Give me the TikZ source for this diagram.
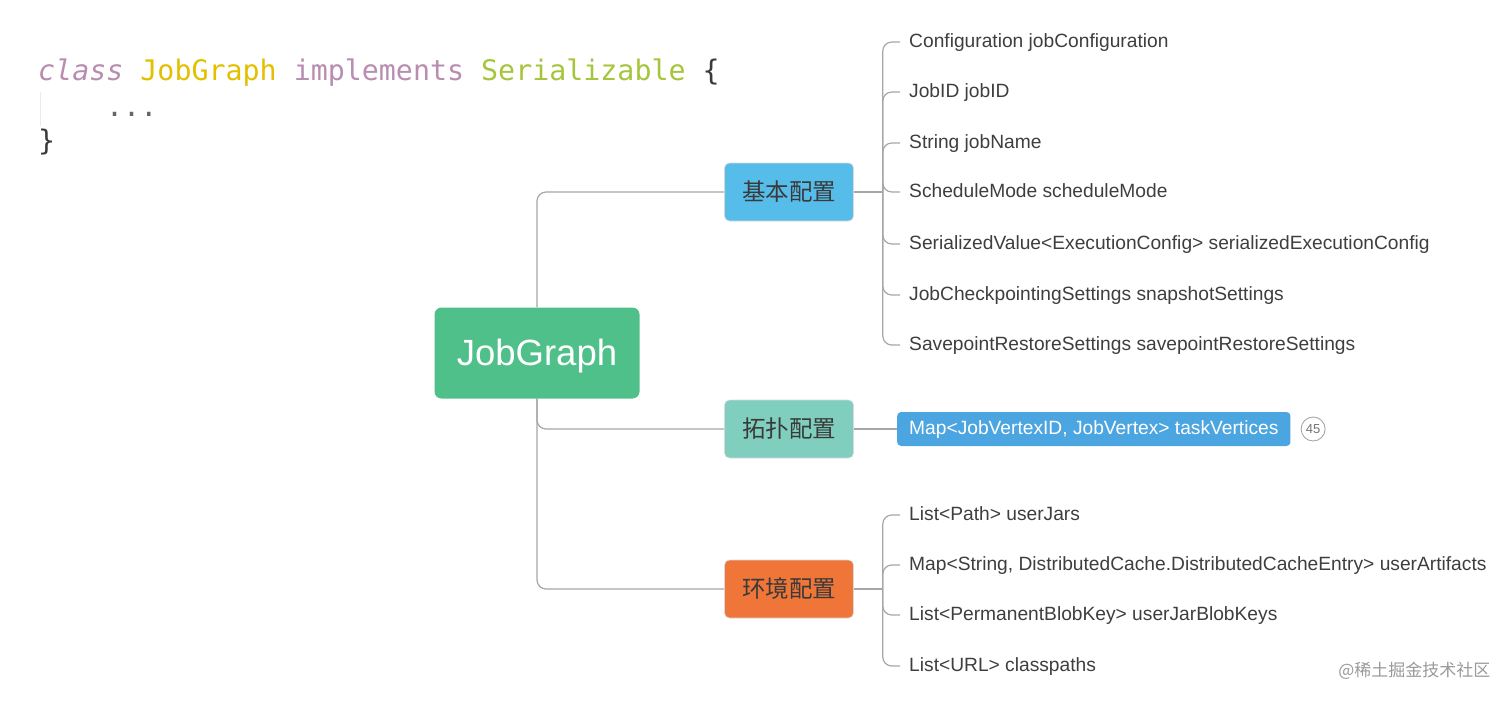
\documentclass[tikz,border=0pt]{standalone}
\usepackage{fontspec}
\setmainfont{Liberation Sans}
\newfontfamily\cjk{Noto Sans CJK SC}
\newfontfamily\codefont{DejaVu Sans Mono}
\usetikzlibrary{positioning,calc}
\definecolor{rootgreen}{HTML}{4FC08A}
\definecolor{basicblue}{HTML}{56BDEA}
\definecolor{topoteal}{HTML}{7FCEBE}
\definecolor{envorange}{HTML}{EF7538}
\definecolor{leafblue}{HTML}{4BA5E0}
\definecolor{linegray}{HTML}{A6A6A6}
\definecolor{txtdark}{HTML}{3A3A3A}
\definecolor{leafgray}{HTML}{3E3E3E}
\definecolor{kwmauve}{HTML}{B88DB0}
\definecolor{clsyellow}{HTML}{E2C000}
\definecolor{ifgreen}{HTML}{A5C53C}

\begin{document}
\begin{tikzpicture}[
    x=1pt, y=-1pt,
    topic/.style={rectangle, rounded corners=5pt, draw=white!85!black, line width=0.6pt,
        minimum width=129pt, minimum height=58pt, text=txtdark,
        font=\cjk\fontsize{23.5}{26}\selectfont},
    leaf/.style={anchor=west, inner xsep=9pt, inner ysep=2pt, text=leafgray,
        text height=15pt, text depth=4pt, font=\fontsize{19.2}{22}\selectfont},
    link/.style={draw=linegray, line width=1.2pt, rounded corners=9pt},
    code/.style={anchor=base west, inner sep=0pt, text=txtdark,
        font=\codefont\fontsize{28.3}{34}\selectfont},
]
\useasboundingbox (0,0) rectangle (1512,702);

% code snippet
\node[code] (decl) at (38,80) {\textcolor{kwmauve}{\itshape class} \textcolor{clsyellow}{JobGraph} \textcolor{kwmauve}{implements} \textcolor{ifgreen}{Serializable} \{};
\node[code, text=black!60] (dots) at (106,116) {...};
\node[code] (closing) at (38,150) {\}};
\draw[black!8, line width=1pt] (40,92) -- (40,126);

% central topic
\node[rectangle, rounded corners=7pt, fill=rootgreen, minimum width=205pt, minimum height=91pt,
    text height=30pt, text depth=5pt, text=white, font=\fontsize{36.5}{40}\selectfont] (root) at (537,353) {JobGraph};

% main topics
\node[topic, fill=basicblue] (basic) at (789,192) {基本配置};
\node[topic, fill=topoteal] (topo) at (789,429) {拓扑配置};
\node[topic, fill=envorange] (env) at (789,589) {环境配置};

\draw[link] (root.north) |- (basic.west);
\draw[link] (root.south) |- (topo.west);
\draw[link] (root.south) |- (env.west);

% basic fields
\node[leaf] (cfg) at (900,42) {Configuration jobConfiguration};
\node[leaf] (jid) at (900,92) {JobID jobID};
\node[leaf] (jname) at (900,143) {String jobName};
\node[leaf] (smode) at (900,192) {ScheduleMode scheduleMode};
\node[leaf] (sexec) at (900,244) {SerializedValue<ExecutionConfig> serializedExecutionConfig};
\node[leaf] (snap) at (900,295) {JobCheckpointingSettings snapshotSettings};
\node[leaf] (savept) at (900,345) {SavepointRestoreSettings savepointRestoreSettings};

\coordinate (bx) at ([xshift=29pt]basic.east);
\draw[link] (basic.east) -- (bx);
\foreach \f in {cfg,jid,jname,smode,sexec,snap,savept}
    \draw[link] (bx) |- (\f.west);

% topology field
\node[anchor=west, rectangle, rounded corners=4pt, fill=leafblue, minimum height=34pt,
    inner xsep=12pt, text height=15pt, text depth=4pt, text=white,
    font=\fontsize{19.2}{22}\selectfont] (tverts) at (897,429) {Map<JobVertexID, JobVertex> taskVertices};
\node[circle, draw=linegray, line width=0.9pt, minimum size=24pt, inner sep=0pt,
    text=black!55, font=\fontsize{13}{14}\selectfont, right=10pt of tverts] (badge) {45};
\draw[link] (topo.east) -- (tverts.west);

% environment fields
\node[leaf] (jars) at (900,515) {List<Path> userJars};
\node[leaf] (artifacts) at (900,565) {Map<String, DistributedCache.DistributedCacheEntry> userArtifacts};
\node[leaf] (blobkeys) at (900,615) {List<PermanentBlobKey> userJarBlobKeys};
\node[leaf] (cpaths) at (900,666) {List<URL> classpaths};

\coordinate (ex) at ([xshift=29pt]env.east);
\draw[link] (env.east) -- (ex);
\foreach \f in {jars,artifacts,blobkeys,cpaths}
    \draw[link] (ex) |- (\f.west);

% watermark
\node[anchor=east, text=black!40, font=\cjk\fontsize{17}{20}\selectfont] (wmark) at (1494,671) {@稀土掘金技术社区};

\end{tikzpicture}
\end{document}
